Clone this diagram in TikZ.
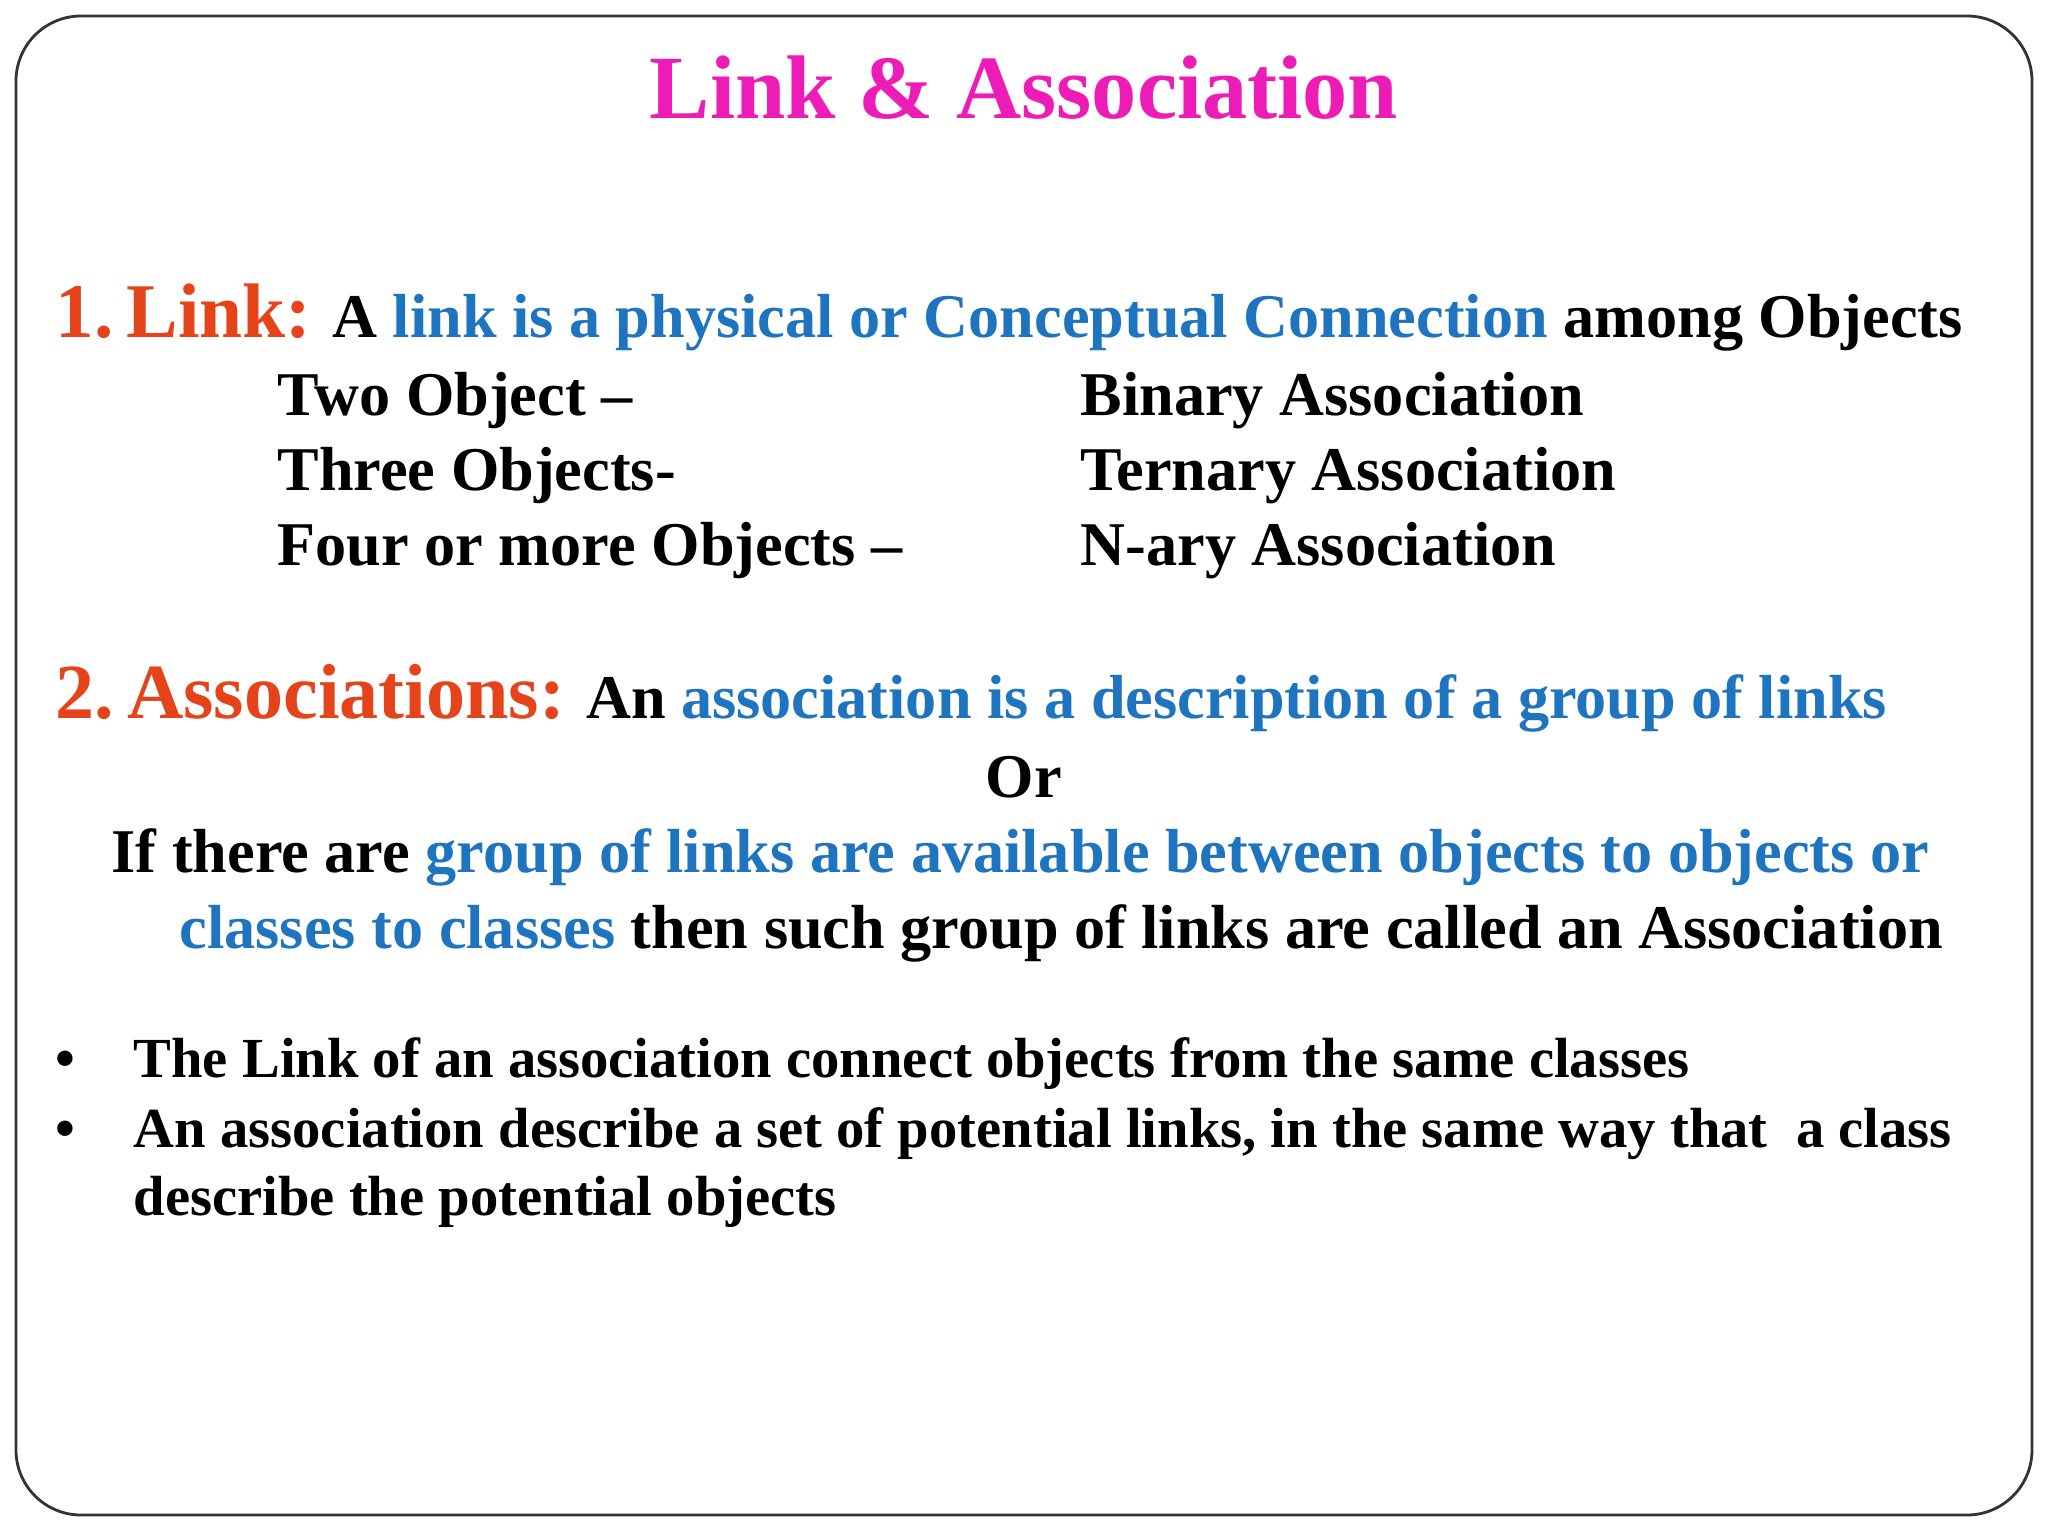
\documentclass[tikz,border=0pt]{standalone}
\usepackage{fontspec}
\setmainfont{Liberation Serif}
\definecolor{hred}{HTML}{E5431A}
\definecolor{hblue}{HTML}{1F74BF}
\definecolor{hmag}{HTML}{EE1CB7}
\begin{document}
\begin{tikzpicture}[x=0.01cm,y=-0.01cm,
  txt/.style={anchor=base west,inner sep=0pt,font=\bfseries\fontsize{17.7}{21}\selectfont},
  btxt/.style={anchor=base west,inner sep=0pt,font=\bfseries\fontsize{16.1}{19}\selectfont}]
\useasboundingbox (0,0) rectangle (2048,1536);
\draw[line width=0.8pt,rounded corners=0.65cm,draw=black!80] (16,16) rectangle (2032,1515);
\node (title) [anchor=base,inner sep=0pt,text=hmag,font=\bfseries\fontsize{25.7}{30}\selectfont] at (1024,118) {Link \& Association};
\node (l1) [txt] at (55,337) {{\color{hred}\fontsize{22}{26}\selectfont 1.\,Link:} A {\color{hblue}link is a physical or Conceptual Connection} among Objects};
\node (a1) [txt] at (277,415) {Two Object –};
\node (b1) [txt] at (1080,415) {Binary Association};
\node (a2) [txt] at (277,490) {Three Objects-};
\node (b2) [txt] at (1080,490) {Ternary Association};
\node (a3) [txt] at (277,565) {Four or more Objects –};
\node (b3) [txt] at (1080,565) {N-ary Association};
\node (l2) [txt] at (55,718) {{\color{hred}\fontsize{22.2}{26}\selectfont 2.\,Associations:} An {\color{hblue}association is a description of a group of links}};
\node (or) [anchor=base,inner sep=0pt,font=\bfseries\fontsize{17.7}{21}\selectfont] at (1024,797) {Or};
\node (if1) [txt] at (111,872) {If there are {\color{hblue}group of links are available between objects to objects or}};
\node (if2) [txt] at (179,948) {{\color{hblue}classes to classes} then such group of links are called an Association};
\node (d1) [btxt] at (55,1077) {•};
\node (t1) [btxt] at (133,1077) {The Link of an association connect objects from the same classes};
\node (d2) [btxt] at (55,1147) {•};
\node (t2) [btxt] at (133,1147) {An association describe a set of potential links, in the same way that\ \ a class};
\node (t3) [btxt] at (133,1215) {describe the potential objects};
\end{tikzpicture}
\end{document}
